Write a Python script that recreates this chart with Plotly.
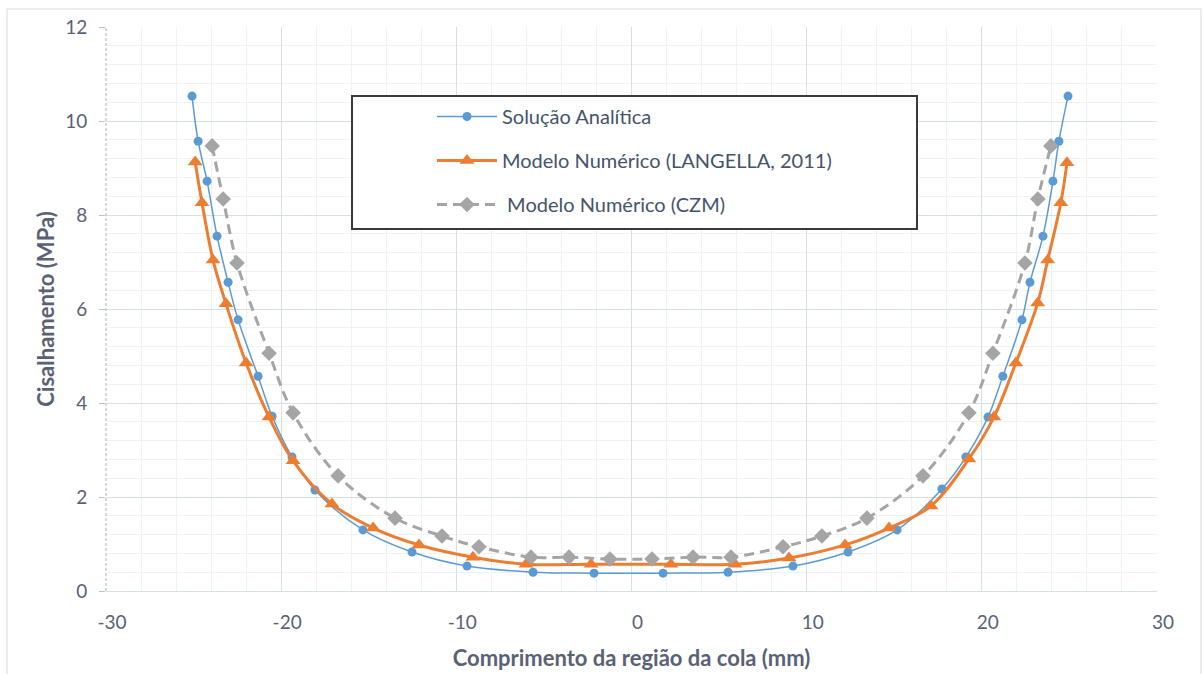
import plotly.graph_objects as go

# Shear stress along the adhesive joint (mm vs MPa)
x_analitica = [-25.09, -24.74, -24.23, -23.66, -23.03, -22.46, -21.32, -20.52, -19.38, -18.07,
               -15.33, -12.53, -9.39, -5.62, -2.14, 1.80, 5.51, 9.22, 12.36, 15.16,
               17.72, 19.09, 20.35, 21.20, 22.29, 22.75, 23.49, 24.06, 24.40, 24.92]
y_analitica = [10.53, 9.57, 8.72, 7.55, 6.57, 5.77, 4.57, 3.72, 2.85, 2.15,
               1.30, 0.83, 0.53, 0.40, 0.38, 0.38, 0.40, 0.53, 0.83, 1.30,
               2.17, 2.85, 3.70, 4.57, 5.77, 6.57, 7.55, 8.72, 9.57, 10.53]

x_langella = [-24.91, -24.52, -23.89, -23.15, -22.00, -20.69, -19.32, -17.10, -14.75, -12.13,
              -9.05, -6.02, -2.31, 2.25, 5.91, 8.99, 12.19, 14.70, 17.10, 19.26,
              20.69, 21.94, 23.19, 23.76, 24.51, 24.86]
y_langella = [9.13, 8.26, 7.04, 6.11, 4.85, 3.70, 2.77, 1.85, 1.34, 0.98,
              0.72, 0.57, 0.57, 0.57, 0.57, 0.70, 0.98, 1.34, 1.81, 2.81,
              3.70, 4.85, 6.13, 7.04, 8.26, 9.11]

x_czm = [-23.94, -23.31, -22.52, -20.69, -19.32, -16.75, -13.50, -10.82, -8.71, -5.74,
         -3.57, -1.23, 1.17, 3.51, 5.68, 8.65, 10.87, 13.44, 16.64, 19.26,
         20.63, 22.46, 23.20, 23.94]
y_czm = [9.47, 8.34, 6.98, 5.06, 3.79, 2.45, 1.55, 1.17, 0.94, 0.72,
         0.72, 0.68, 0.68, 0.72, 0.72, 0.94, 1.17, 1.55, 2.45, 3.79,
         5.06, 6.98, 8.34, 9.47]

series_names = ["Solução Analítica", "Modelo Numérico (LANGELLA, 2011)", " Modelo Numérico (CZM)"]
x_ticks = [-30, -20, -10, 0, 10, 20, 30]
y_ticks = [0, 2, 4, 6, 8, 10, 12]

BLUE = "#5B9BD5"
ORANGE = "#ED7D31"
GRAY = "#A5A5A5"
TEXT = "#596275"
FONT = "Lato"

W, H = 1203, 674
L, R, T, B = 106, 46, 27, 83
pw, ph = W - L - R, H - T - B


def px_x(p):
    return (p - L) / pw


def px_y(p):
    return (H - B - p) / ph


fig = go.Figure()
fig.add_trace(go.Scatter(
    x=x_analitica, y=y_analitica, name=series_names[0], legendgroup="a",
    mode="lines+markers", line=dict(color=BLUE, width=1.5, shape="spline"),
    marker=dict(symbol="circle", size=9, color=BLUE)))
fig.add_trace(go.Scatter(
    x=x_langella, y=y_langella, name=series_names[1], legendgroup="b",
    mode="lines+markers", line=dict(color=ORANGE, width=3, shape="spline"),
    marker=dict(symbol="triangle-up", size=13, color=ORANGE)))
fig.add_trace(go.Scatter(
    x=x_czm, y=y_czm, name=series_names[2], legendgroup="c",
    mode="lines+markers", line=dict(color=GRAY, width=3, shape="spline", dash="10px,6px"),
    marker=dict(symbol="diamond", size=12, color=GRAY)))

fig.update_layout(
    width=W, height=H,
    margin=dict(l=L, r=R, t=T, b=B),
    paper_bgcolor="white", plot_bgcolor="white",
    font=dict(family=FONT, color=TEXT, size=19),
    showlegend=True,
    legend=dict(x=px_x(432), y=px_y(97), xanchor="left", yanchor="top",
                bgcolor="rgba(0,0,0,0)", borderwidth=0,
                font=dict(family=FONT, size=20, color="#44546A"),
                tracegroupgap=15, itemwidth=60),
    xaxis=dict(range=[-30, 30], tickvals=x_ticks, ticktext=[str(v) for v in x_ticks],
               automargin=False,
               showgrid=True, gridcolor="#D9DFE8", gridwidth=1,
               minor=dict(dtick=2, showgrid=True, gridcolor="#EEF1F5", gridwidth=1),
               zeroline=False, showline=True, linecolor="#D9DFE8", linewidth=1,
               ticks="", ticklabelstandoff=14, ticklabelshift=6,
               tickfont=dict(size=19, color=TEXT),
               title=dict(text="<b>Comprimento da região da cola (mm)</b>",
                          font=dict(size=22, color=TEXT), standoff=18)),
    yaxis=dict(range=[0, 12], tickvals=y_ticks, ticktext=[str(v) for v in y_ticks],
               automargin=False,
               showgrid=True, gridcolor="#D9DFE8", gridwidth=1,
               minor=dict(dtick=0.4, showgrid=True, gridcolor="#EEF1F5", gridwidth=1),
               zeroline=False, showline=False,
               ticks="outside", ticklen=6, tickcolor="#B8C0CC", ticklabelstandoff=8,
               tickfont=dict(size=19, color=TEXT),
               title=dict(text="<b>Cisalhamento (MPa)</b>",
                          font=dict(size=22, color=TEXT), standoff=4)),
    shapes=[
        # outer chart frame
        dict(type="rect", xref="paper", yref="paper",
             x0=px_x(7), x1=px_x(1201), y0=px_y(690), y1=px_y(9),
             line=dict(color="#D9D9D9", width=1), fillcolor="rgba(0,0,0,0)", layer="below"),
        # dashed vertical axis line
        dict(type="line", xref="paper", yref="paper", x0=0, x1=0, y0=0, y1=1,
             line=dict(color="#A9B3C2", width=1, dash="3px,2px"), layer="above"),
        # legend frame
        dict(type="rect", xref="paper", yref="paper",
             x0=px_x(352), x1=px_x(917), y0=px_y(229), y1=px_y(96),
             line=dict(color="#3A3A3A", width=2), fillcolor="white", layer="above"),
    ],
)

fig.write_html("out.html")
